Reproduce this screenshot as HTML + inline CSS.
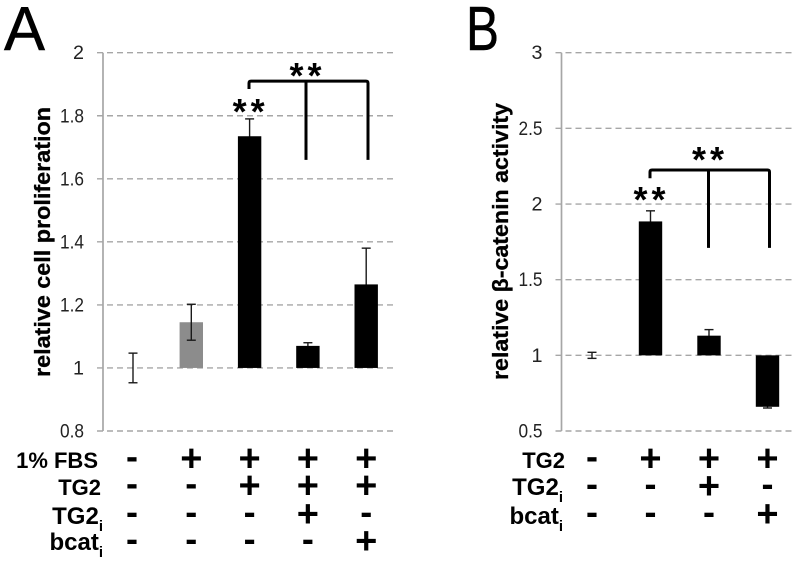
<!DOCTYPE html>
<html lang="en">
<head>
<meta charset="utf-8">
<title>Relative cell proliferation and beta-catenin activity</title>
<style>
html,body{margin:0;padding:0;background:#fff;width:800px;height:563px;overflow:hidden}
svg{display:block;font-family:"Liberation Sans",sans-serif}
</style>
</head>
<body>
<svg id="fig" width="800" height="563" viewBox="0 0 800 563" xmlns="http://www.w3.org/2000/svg"></svg>
<script>
// Panel A data
const aTicks = ["0.8", "1", "1.2", "1.4", "1.6", "1.8", "2"];
const aValues = [1, 1.145, 1.735, 1.07, 1.265];
const aErrors = [0.047, 0.057, 0.055, 0.01, 0.115];
const aColors = ["none", "#8c8c8c", "#000", "#000", "#000"];
const aRowLabels = ["1% FBS", "TG2", "TG2", "bcat"];
const aRowSubs = ["", "", "i", "i"];
const aRowSigns = ["-++++", "--+++", "---+-", "----+"];
const aBracket = [1.91, 1.885, 1.66];

// Panel B data
const bTicks = ["0.5", "1", "1.5", "2", "2.5", "3"];
const bValues = [1, 1.885, 1.13, 0.66];
const bErrors = [0.02, 0.07, 0.04, 0.008];
const bColors = ["none", "#000", "#000", "#000"];
const bRowLabels = ["TG2", "TG2", "bcat"];
const bRowSubs = ["", "i", "i"];
const bRowSigns = ["-+++", "--+-", "---+"];
const bBracket = [2.225, 2.17, 1.71];

const NS = "http://www.w3.org/2000/svg";
const svg = document.getElementById("fig");

function make(parent, tag, attrs, name, text) {
  const el = document.createElementNS(NS, tag);
  for (const k in attrs) el.setAttribute(k, attrs[k]);
  
  
  if (text !== undefined) el.textContent = text;
  parent.appendChild(el);
  return el;
}

function drawError(g, x, v, e, i) {
  const yScale = g.yScale;
  const yU = yScale(v + e), yL = yScale(v - e);
  const eg = make(g, "g", {stroke: "#1a1a1a", "stroke-width": 1.4}, "error-bar-" + (i + 1));
  make(eg, "line", {x1: x, x2: x, y1: yU, y2: yL}, "error-stem");
  make(eg, "line", {x1: x - 4.5, x2: x + 4.5, y1: yU, y2: yU}, "error-cap-upper");
  make(eg, "line", {x1: x - 4.5, x2: x + 4.5, y1: yL, y2: yL}, "error-cap-lower");
}

function drawPanel(cfg) {
  const g = make(svg, "g", {}, cfg.id);
  const lo = parseFloat(cfg.ticks[0]);
  const hi = parseFloat(cfg.ticks[cfg.ticks.length - 1]);
  const yScale = v => 431 - (v - lo) / (hi - lo) * (431 - 52.7);
  const xScale = i => cfg.x0 + i * cfg.step;
  g.yScale = yScale;

  make(g, "text", {x: cfg.letterX, y: 50, "font-size": 62, fill: "#000", stroke: "#000", "stroke-width": 0.5, textLength: cfg.letterW, lengthAdjust: "spacingAndGlyphs"}, cfg.id + "-letter", cfg.letter);

  cfg.ticks.forEach(t => {
    const y = yScale(parseFloat(t));
    make(g, "line", {x1: cfg.axisX - 6, x2: cfg.gridEnd, y1: y, y2: y, stroke: "#a6a6a6", "stroke-width": 1.4, "stroke-dasharray": "6 4"}, "gridline-" + t);
    make(g, "text", {x: cfg.axisX - 19, y: y + 6.5, "text-anchor": "end", "font-size": 19, fill: "#222", textLength: t.length > 1 ? 24 : 11, lengthAdjust: "spacingAndGlyphs"}, "y-tick-label-" + t, t);
  });
  make(g, "line", {x1: cfg.axisX, x2: cfg.axisX, y1: yScale(hi), y2: yScale(lo), stroke: "#a6a6a6", "stroke-width": 1.7}, "y-axis");

  const base = yScale(1);
  cfg.values.forEach((v, i) => {
    const x = xScale(i);
    const top = Math.min(yScale(v), base);
    const h = Math.abs(yScale(v) - base);
    const solid = cfg.colors[i] === "#000";
    if (solid) drawError(g, x, v, cfg.errors[i], i);
    if (cfg.colors[i] !== "none") {
      make(g, "rect", {x: x - 11.7, y: top, width: 23.4, height: h, fill: cfg.colors[i]}, "bar-" + (i + 1));
    }
    if (!solid) drawError(g, x, v, cfg.errors[i], i);
  });

  make(g, "text", {transform: "translate(" + cfg.titleX + "," + cfg.titleBottom + ") rotate(-90)", "font-size": 22, "font-weight": "bold", fill: "#000", stroke: "#000", "stroke-width": 0.3, textLength: cfg.titleLen, lengthAdjust: "spacingAndGlyphs"}, "y-axis-title", cfg.title);

  // significance bracket, from the reference bar to the compared bars
  const bx = cfg.bracketX;
  const by = yScale(cfg.bracket[0]), dropL = yScale(cfg.bracket[1]), dropB = yScale(cfg.bracket[2]);
  make(g, "path", {
    d: "M" + bx[0] + " " + dropL + "V" + (by + 2) + "Q" + bx[0] + " " + by + " " + (bx[0] + 2) + " " + by +
       "H" + (bx[2] - 2) + "Q" + bx[2] + " " + by + " " + bx[2] + " " + (by + 2) + "V" + dropB +
       "M" + bx[1] + " " + by + "V" + dropB,
    fill: "none", stroke: "#000", "stroke-width": 3
  }, "significance-bracket");
  make(g, "text", {x: bx[1] + 1.5, y: by + cfg.bracketStarOffset, "text-anchor": "middle", "font-size": 36, "font-weight": "bold", "letter-spacing": 4, fill: "#000"}, "bracket-significance-stars", "**");
  const sx = xScale(cfg.starIndex);
  make(g, "text", {x: sx + 1, y: yScale(cfg.values[cfg.starIndex] + cfg.errors[cfg.starIndex]) + cfg.barStarOffset, "text-anchor": "middle", "font-size": 36, "font-weight": "bold", "letter-spacing": 4, fill: "#000"}, "bar-significance-stars", "**");

  // condition table
  cfg.rowLabels.forEach((lab, r) => {
    const row = make(g, "g", {}, "condition-row-" + (r + 1));
    const yb = cfg.rowY[r];
    const hasSub = !!cfg.rowSubs[r];
    const t = make(row, "text", {x: cfg.labelEnd - cfg.rowPad[r], y: yb, "text-anchor": "end", "font-size": hasSub ? 24 : 22, "font-weight": "bold", fill: "#000"}, "condition-label");
    t.textContent = lab;
    if (hasSub) {
      const s = make(t, "tspan", {"font-size": 15, dy: 7}, "condition-subscript");
      s.textContent = cfg.rowSubs[r];
    }
    cfg.rowSigns[r].split("").forEach((c, i) => {
      const x = xScale(i);
      const nudge = (i === 0 ? cfg.firstNudge : 0);
      const cy = cfg.signY[r];
      if (c === "+") {
        make(row, "text", {x: x + nudge, y: cy + 12.5, "text-anchor": "middle", "font-size": 38, "font-weight": "bold", fill: "#000"}, "plus-sign", c);
      } else {
        make(row, "text", {x: x + nudge, y: cy + 10, "text-anchor": "middle", "font-size": 36, "font-weight": "bold", fill: "#000"}, "minus-sign", c);
      }
    });
  });
}

drawPanel({
  id: "panel-a", letter: "A", letterX: 4, letterW: 41, title: "relative cell proliferation",
  titleX: 50, titleBottom: 377, titleLen: 270,
  ticks: aTicks, values: aValues, errors: aErrors, colors: aColors,
  rowLabels: aRowLabels, rowSubs: aRowSubs, rowSigns: aRowSigns, bracket: aBracket,
  axisX: 103, gridEnd: 396, x0: 133, step: 58.3, bracketX: [249, 306, 368], starIndex: 2,
  bracketStarOffset: 7, barStarOffset: 5,
  rowY: [468, 495, 524, 550], signY: [458.5, 485.5, 514, 541], labelEnd: 103, rowPad: [5, 2, 0, 0], firstNudge: -1
});

drawPanel({
  id: "panel-b", letter: "B", letterX: 466, letterW: 33, title: "relative \u03B2-catenin activity",
  titleX: 508, titleBottom: 380, titleLen: 277,
  ticks: bTicks, values: bValues, errors: bErrors, colors: bColors,
  rowLabels: bRowLabels, rowSubs: bRowSubs, rowSigns: bRowSigns, bracket: bBracket,
  axisX: 561.5, gridEnd: 795, x0: 592, step: 58.5, bracketX: [650, 708.5, 769.5], starIndex: 1,
  bracketStarOffset: 2, barStarOffset: 1,
  rowY: [468, 495, 524], signY: [458.5, 486, 514], labelEnd: 563, rowPad: [-2, 0, 0], firstNudge: 0
});
</script>
</body>
</html>
